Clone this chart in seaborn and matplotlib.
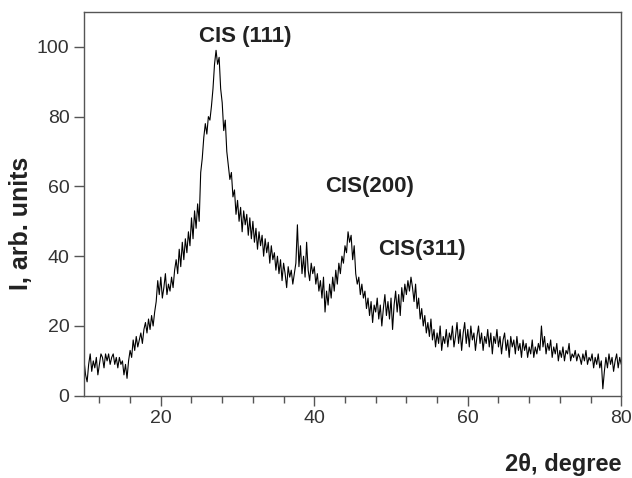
import numpy as np
import pandas as pd
import matplotlib
matplotlib.use("Agg")
import matplotlib.pyplot as plt
import seaborn as sns
from matplotlib.ticker import MultipleLocator

# 2theta grid (degree), step 0.2 from 10 to 80
two_theta_start = 10.0
two_theta_step = 0.2

# intensity, 10 points (2 degrees) per row
intensity = [
    10, 6, 4, 9, 12, 7, 10, 8, 11, 6,          # 10-12
    9, 12, 11, 8, 12, 10, 12, 9, 11, 12,       # 12-14
    9, 11, 8, 11, 9, 10, 6, 9, 5, 10,          # 14-16
    13, 11, 16, 13, 17, 14, 16, 18, 15, 19,    # 16-18
    21, 18, 22, 19, 23, 20, 24, 27, 33, 29,    # 18-20
    34, 28, 31, 35, 29, 32, 30, 34, 31, 36,    # 20-22
    39, 35, 42, 37, 44, 39, 45, 41, 47, 43,    # 22-24
    51, 45, 53, 48, 55, 50, 64, 68, 74, 78,    # 24-26
    75, 80, 79, 83, 88, 95, 99, 95, 97, 88,    # 26-28
    84, 76, 79, 70, 66, 62, 64, 57, 59, 52,    # 28-30
    56, 50, 54, 47, 53, 49, 52, 46, 51, 45,    # 30-32
    50, 44, 48, 42, 47, 43, 46, 40, 45, 41,    # 32-34
    44, 38, 43, 39, 41, 36, 40, 35, 39, 33,    # 34-36
    38, 35, 31, 37, 34, 36, 32, 35, 38, 49,    # 36-38
    37, 43, 35, 40, 34, 44, 36, 33, 38, 35,    # 38-40
    37, 32, 35, 30, 33, 28, 34, 24, 30, 26,    # 40-42
    32, 28, 34, 30, 36, 32, 38, 35, 40, 38,    # 42-44
    43, 41, 47, 44, 46, 39, 43, 35, 32, 34,    # 44-46
    29, 32, 28, 30, 25, 28, 23, 27, 21, 26,    # 46-48
    24, 28, 22, 26, 20, 25, 29, 23, 27, 22,    # 48-50
    28, 19, 26, 30, 24, 29, 23, 31, 27, 32,    # 50-52
    29, 33, 30, 34, 31, 27, 32, 25, 28, 22,    # 52-54
    25, 20, 23, 18, 21, 17, 22, 16, 19, 14,    # 54-56
    18, 15, 20, 13, 17, 15, 19, 14, 18, 16,    # 56-58
    20, 14, 17, 21, 15, 19, 13, 18, 21, 15,    # 58-60
    19, 14, 20, 16, 18, 13, 17, 20, 15, 18,    # 60-62
    13, 17, 15, 19, 14, 18, 12, 17, 15, 19,    # 62-64
    14, 17, 12, 16, 18, 13, 16, 11, 17, 14,    # 64-66
    16, 12, 17, 13, 15, 11, 16, 13, 15, 11,    # 66-68
    14, 12, 16, 11, 14, 12, 15, 13, 20, 14,    # 68-70
    17, 12, 15, 13, 16, 11, 14, 12, 15, 10,    # 70-72
    13, 11, 14, 10, 13, 12, 15, 10, 12, 11,    # 72-74
    13, 10, 12, 11, 9, 12, 10, 13, 9, 11,      # 74-76
    10, 12, 8, 11, 9, 12, 8, 10, 2, 7,         # 76-78
    11, 8, 12, 9, 11, 7, 10, 12, 8, 11,        # 78-80
    9,                                         # 80
]

two_theta = np.round(two_theta_start + two_theta_step * np.arange(len(intensity)), 1)
df = pd.DataFrame({"2theta": two_theta, "I": intensity})

# peak labels
peak_labels = ["CIS (111)", "CIS(200)", "CIS(311)"]
peak_label_x = [31.0, 47.2, 54.0]
peak_label_y = [103.0, 60.0, 42.0]

sns.set_style("ticks")
plt.rcParams["font.family"] = ["Liberation Sans", "DejaVu Sans"]

fig = plt.figure(figsize=(6.32, 4.78), dpi=100)
ax = fig.add_axes([0.133, 0.172, 0.85, 0.803])

sns.lineplot(data=df, x="2theta", y="I", color="black", linewidth=0.8, ax=ax)

for lab, lx, ly in zip(peak_labels, peak_label_x, peak_label_y):
    ax.text(lx, ly, lab, ha="center", va="center", fontsize=16,
            fontweight="bold", color="#222222")

ax.set_xlim(10, 80)
ax.set_ylim(0, 110)
ax.xaxis.set_major_locator(MultipleLocator(20))
ax.xaxis.set_minor_locator(MultipleLocator(4))
ax.yaxis.set_major_locator(MultipleLocator(20))

for sp in ax.spines.values():
    sp.set_color("#555555")
    sp.set_linewidth(1.0)

ax.tick_params(axis="both", which="major", direction="out", length=7,
               width=1, color="#555555", labelsize=14, labelcolor="#333333")
ax.tick_params(axis="x", which="minor", direction="out", length=5,
               width=1, color="#555555")

ax.set_xlabel("2θ, degree", fontsize=17, fontweight="bold", color="#222222")
ax.xaxis.set_label_coords(1.0, -0.148)
ax.xaxis.label.set_horizontalalignment("right")
ax.set_ylabel("I, arb. units", fontsize=18, fontweight="bold", color="#222222")
ax.yaxis.set_label_coords(-0.095, 0.45)

fig.savefig("out.png", dpi=100)
